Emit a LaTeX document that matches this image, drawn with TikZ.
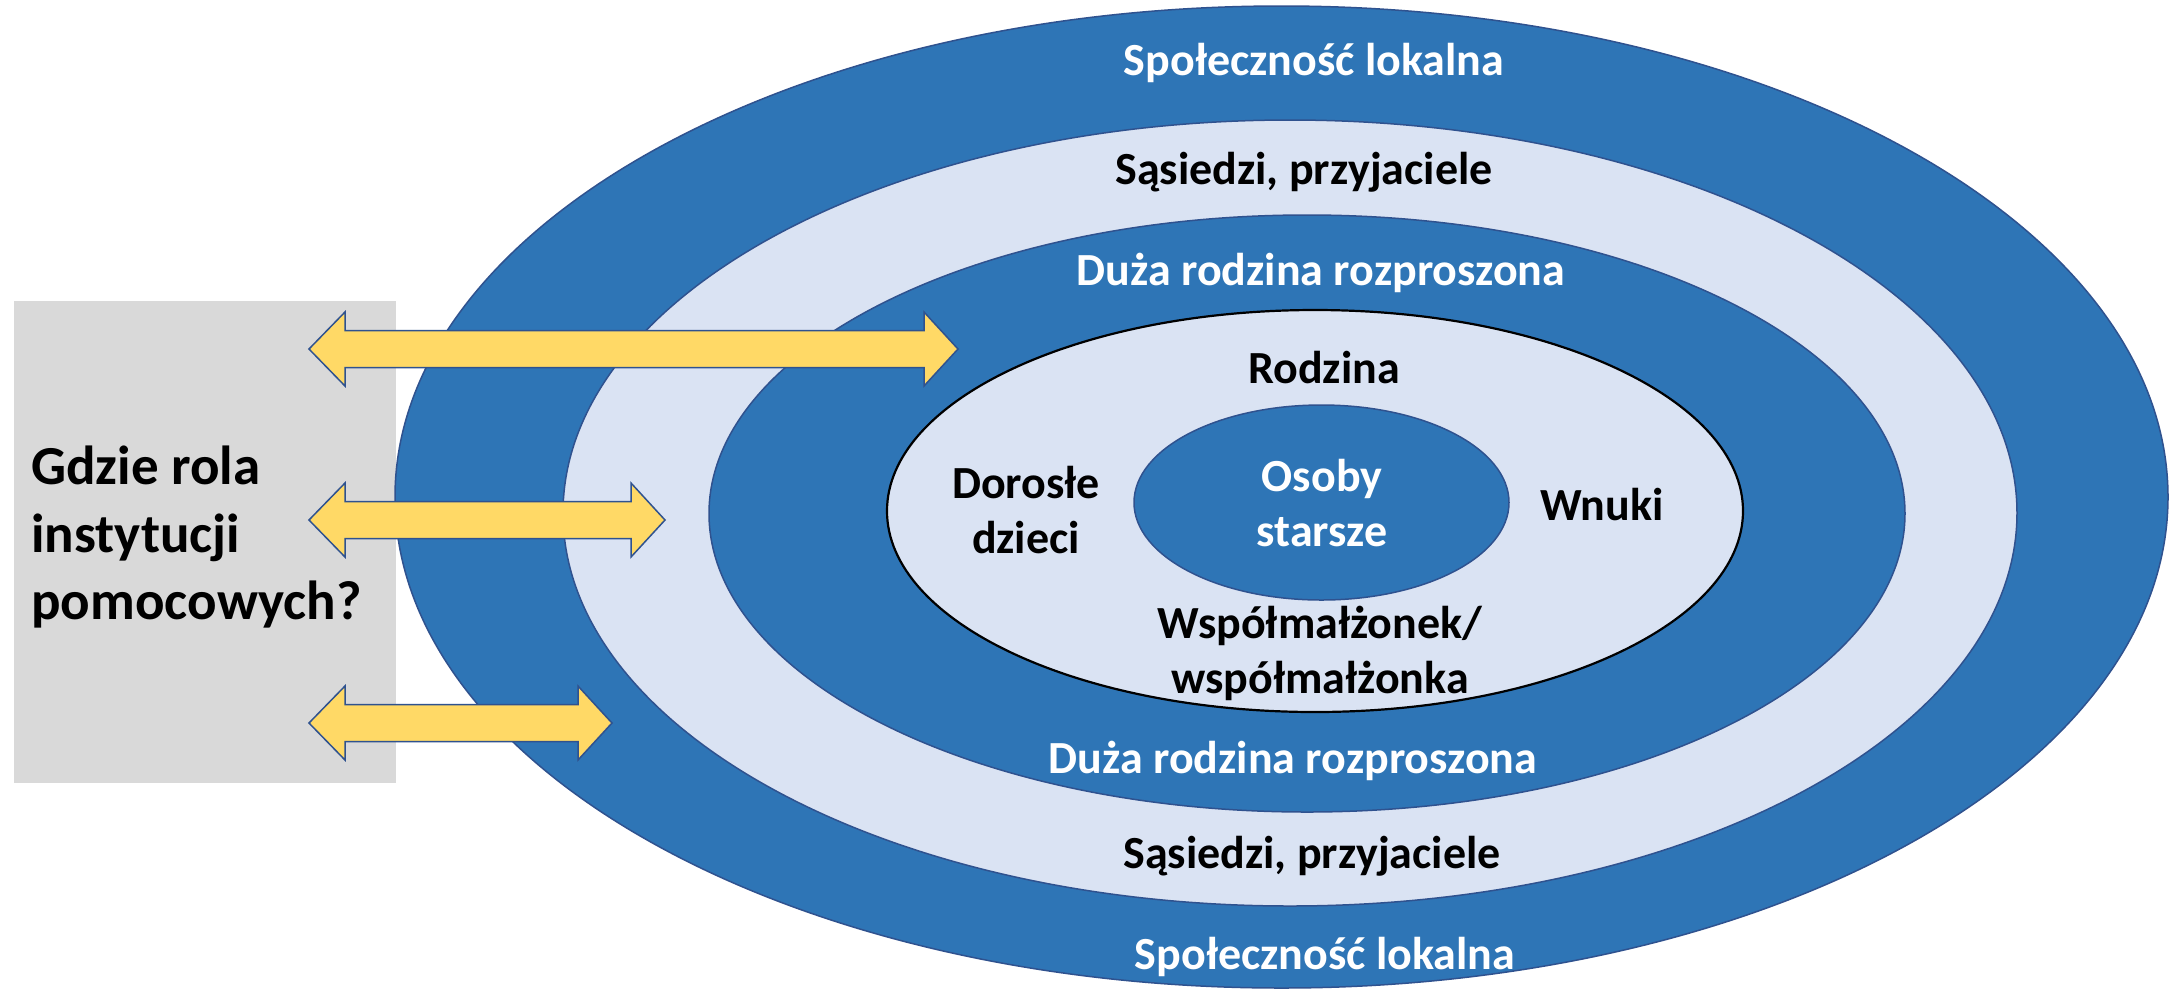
\documentclass[tikz,border=0pt]{standalone}
\usepackage{fontspec}
\setmainfont{Carlito}
\definecolor{dblue}{HTML}{2E75B6}
\definecolor{lblue}{HTML}{DAE3F3}
\definecolor{edgeblue}{HTML}{2F528F}
\definecolor{ayellow}{HTML}{FFD966}
\definecolor{boxgray}{HTML}{D9D9D9}
\tikzset{
  ringdark/.style={fill=dblue, draw=edgeblue, line width=0.75pt},
  ringlight/.style={fill=lblue, draw=edgeblue, line width=0.75pt},
  dblarrowsty/.style={fill=ayellow, draw=edgeblue, line width=0.75pt, line join=miter},
  lbl/.style={inner sep=0pt, anchor=base, font=\fontsize{23}{27}\selectfont\bfseries},
  wlbl/.style={lbl, text=white},
  klbl/.style={lbl, text=black},
  qlbl/.style={inner sep=0pt, anchor=base west, font=\fontsize{27.5}{33}\selectfont\bfseries, text=black}
}
\newcommand\dblarrow[3]{%
  \draw[dblarrowsty] (#1,#3) -- ({#1+36},{#3-37}) -- ({#1+36},{#3-18.5}) -- ({#2-34},{#3-18.5})
    -- ({#2-34},{#3-37}) -- (#2,#3) -- ({#2-34},{#3+37}) -- ({#2-34},{#3+18.5})
    -- ({#1+36},{#3+18.5}) -- ({#1+36},{#3+37}) -- cycle;}
\begin{document}
\begin{tikzpicture}[x=0.5pt,y=-0.5pt]
\useasboundingbox (0,0) rectangle (2181,993);
\fill[white] (0,0) rectangle (2181,993);
% grey box
\fill[boxgray] (14,301) rectangle (396,783);
% rings
\path[ringdark]  (1281.5,497) ellipse [x radius=443.25pt, y radius=245.5pt];
\path[ringlight] (1290,513)   ellipse [x radius=363.5pt, y radius=196.5pt];
\path[ringdark]  (1307,513.5) ellipse [x radius=299pt, y radius=149.25pt];
\path[fill=lblue, draw=black, line width=1.1pt] (1315,511) ellipse [x radius=214pt, y radius=100.5pt];
\path[ringdark]  (1321.5,502.5) ellipse [x radius=93.75pt, y radius=48.75pt];
% arrows
\dblarrow{309}{958}{349}
\dblarrow{309}{665}{520}
\dblarrow{309}{612}{723}
% question text
\node[qlbl] (q1) at (31,484) {Gdzie rola};
\node[qlbl] (q2) at (31,552) {instytucji};
\node[qlbl] (q3) at (31,619) {pomocowych?};
% ring labels
\node[wlbl] (spt) at (1314,75) {Społeczność lokalna};
\node[klbl] (sat) at (1304,184) {Sąsiedzi, przyjaciele};
\node[wlbl] (dut) at (1321,285) {Duża rodzina rozproszona};
\node[klbl] (rod) at (1324,383) {Rodzina};
\node[wlbl] (os1) at (1322,491) {Osoby};
\node[wlbl] (os2) at (1322,546) {starsze};
\node[klbl] (do1) at (1026,498) {Dorosłe};
\node[klbl] (do2) at (1026,553) {dzieci};
\node[klbl] (wnu) at (1602,520) {Wnuki};
\node[klbl] (ws1) at (1320,638) {Współmałżonek/};
\node[klbl] (ws2) at (1320,693) {współmałżonka};
\node[wlbl] (dub) at (1293,773) {Duża rodzina rozproszona};
\node[klbl] (sab) at (1312,868) {Sąsiedzi, przyjaciele};
\node[wlbl] (spb) at (1325,969) {Społeczność lokalna};
\end{tikzpicture}
\end{document}
